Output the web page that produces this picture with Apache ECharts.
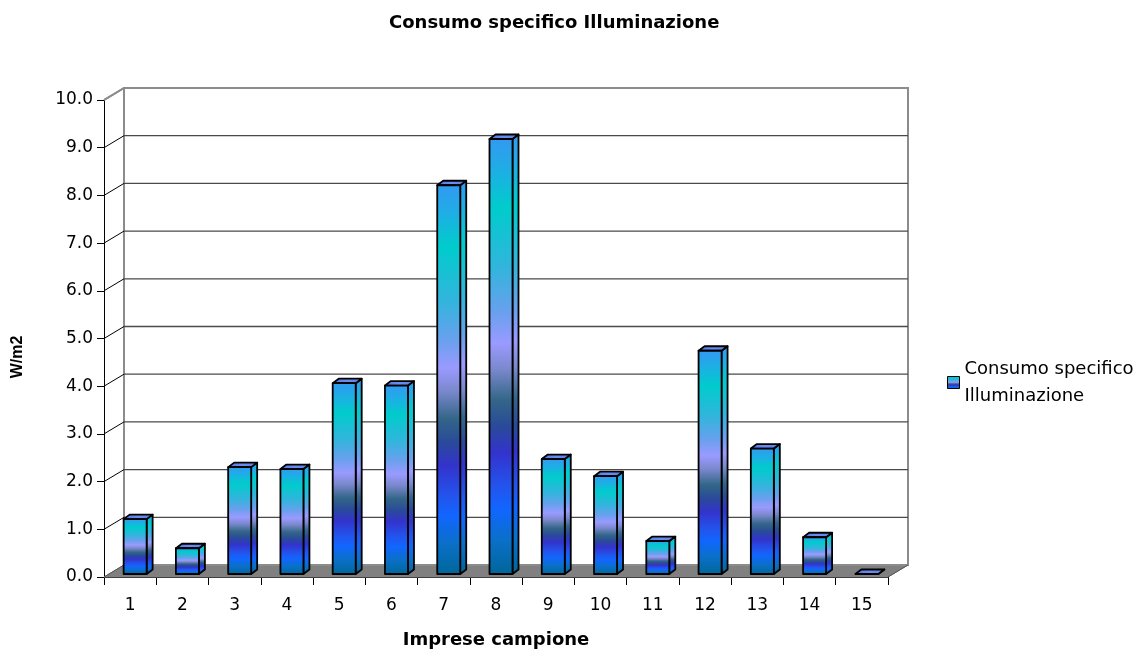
<!DOCTYPE html>
<html>
<head>
<meta charset="utf-8">
<script src="https://cdn.jsdelivr.net/npm/echarts@6/dist/echarts.min.js"></script>
<style>html,body{margin:0;padding:0;background:#fff}#c{width:1146px;height:654px}</style>
</head>
<body>
<div id="c"></div>
<script>
const categories = ['1','2','3','4','5','6','7','8','9','10','11','12','13','14','15'];
const values = [1.15, 0.54, 2.24, 2.2, 4.0, 3.95, 8.15, 9.12, 2.41, 2.05, 0.69, 4.68, 2.63, 0.77, 0.0];
const yTicks = [0,1,2,3,4,5,6,7,8,9,10];
const seriesName = 'Consumo specifico Illuminazione';

const FONT = 'DejaVu Sans';
const DEPTH = [20, -12];      // wall depth offset
const FRONT = [5, -3];        // bar front plane offset
const BDEP = [6, -4.5];       // bar depth

const stops = [
  {offset:0.00, color:'#3399f0'},
  {offset:0.06, color:'#22aae8'},
  {offset:0.16, color:'#00cccc'},
  {offset:0.30, color:'#33b4dd'},
  {offset:0.40, color:'#6aa0ee'},
  {offset:0.47, color:'#9a9aff'},
  {offset:0.53, color:'#7a88cc'},
  {offset:0.60, color:'#336688'},
  {offset:0.66, color:'#2a4a99'},
  {offset:0.72, color:'#3333cc'},
  {offset:0.80, color:'#2255ee'},
  {offset:0.85, color:'#1166ff'},
  {offset:0.92, color:'#0a70c8'},
  {offset:1.00, color:'#006699'}
];
const grad = () => ({type:'linear', x:0, y:0, x2:0, y2:1, colorStops: stops});
const topGrad = {type:'linear', x:0, y:0, x2:1, y2:0, colorStops:[{offset:0,color:'#4a78e6'},{offset:0.5,color:'#6d8cf0'},{offset:1,color:'#4f82e8'}]};

function plotEdges(api) {
  const cw = api.size([1, 0])[0];
  const x0 = api.coord([0, 0])[0] - cw / 2;
  const x1 = api.coord([categories.length - 1, 0])[0] + cw / 2;
  return {cw, x0, x1};
}

function renderFrame(params, api) {
  const e = plotEdges(api);
  const yb = api.coord([0, 0])[1];
  const yt = api.coord([0, 10])[1];
  const [dx, dy] = DEPTH;
  return {
    type: 'group',
    children: [
      {type:'polygon', shape:{points:[[e.x0,yb],[e.x0+dx,yb+dy],[e.x1+dx,yb+dy],[e.x1,yb]]},
        style:{fill:'#808080', stroke:'#808080', lineWidth:1}},
      {type:'rect', shape:{x:e.x0+dx, y:yt+dy, width:e.x1-e.x0, height:yb-yt},
        style:{fill:'none', stroke:'#8c8c8c', lineWidth:2}},
      {type:'line', shape:{x1:e.x0, y1:yt, x2:e.x0+dx, y2:yt+dy}, style:{stroke:'#8c8c8c', lineWidth:2}},
      {type:'line', shape:{x1:e.x1, y1:yb, x2:e.x1+dx, y2:yb+dy}, style:{stroke:'#555', lineWidth:1}}
    ]
  };
}

function renderGrid(params, api) {
  const v = api.value(1);
  if (v === 0 || v === 10) {
    const e0 = plotEdges(api);
    const p0 = api.coord([0, v]);
    return {type:'line', shape:{x1:e0.x0, y1:p0[1], x2:e0.x0+DEPTH[0], y2:p0[1]+DEPTH[1]},
      style:{stroke: v === 0 ? '#555' : '#8c8c8c', lineWidth: v === 0 ? 1 : 2}};
  }
  const e = plotEdges(api);
  const y = api.coord([0, v])[1];
  const [dx, dy] = DEPTH;
  return {
    type:'group',
    children:[
      {type:'line', shape:{x1:e.x0, y1:y, x2:e.x0+dx, y2:y+dy}, style:{stroke:'#000', lineWidth:1}},
      {type:'line', shape:{x1:e.x0+dx, y1:y+dy, x2:e.x1+dx, y2:y+dy}, style:{stroke:'#4a4a4a', lineWidth:1.3}}
    ]
  };
}

function renderBar(params, api) {
  const i = api.value(0), v = api.value(1);
  const base = api.coord([i, 0]);
  const top = api.coord([i, v]);
  const cw = api.size([1, 0])[0];
  const w = cw * 0.44;
  const xl = base[0] + FRONT[0] - w / 2, xr = xl + w;
  const yb = base[1] + FRONT[1], yt = top[1] + FRONT[1];
  const [dx, dy] = BDEP;
  const st = {stroke:'#000', lineWidth:1.8, lineJoin:'round'};
  const children = [
    {type:'polygon', shape:{points:[[xr,yt],[xr+dx,yt+dy],[xr+dx,yb+dy],[xr,yb]]},
      style:Object.assign({fill:grad()}, st)},
    {type:'polygon', shape:{points:[[xl,yt],[xl+dx,yt+dy],[xr+dx,yt+dy],[xr,yt]]},
      style:Object.assign({fill:topGrad}, st)}
  ];
  if (yb - yt > 0.5) {
    children.push({type:'rect', shape:{x:xl, y:yt, width:w, height:yb-yt},
      style:Object.assign({fill:grad()}, st)});
  }
  return {type:'group', children};
}

const chart = echarts.init(document.getElementById('c'), null, {renderer:'canvas'});
chart.setOption({
  animation:false,
  backgroundColor:'#fff',
  textStyle:{fontFamily:FONT},
  title:{
    text:seriesName, left:384, top:9,
    textStyle:{fontFamily:FONT, fontWeight:'bold', fontSize:18, color:'#000'}
  },
  legend:{
    orient:'vertical', left:942, top:337,
    itemWidth:12, itemHeight:12, itemGap:6,
    data:[{name:seriesName, icon:'rect', itemStyle:{color:grad(), borderColor:'#000', borderWidth:1}}],
    formatter:() => 'Consumo specifico\nIlluminazione',
    textStyle:{fontFamily:FONT, fontSize:18, color:'#000', lineHeight:27, padding:[27,0,0,0]}
  },
  grid:{left:104, right:258, top:100, bottom:74, containLabel:false},
  xAxis:{
    type:'category', data:categories, boundaryGap:true,
    name:'Imprese campione', nameLocation:'middle', nameGap:54,
    nameTextStyle:{fontFamily:FONT, fontWeight:'bold', fontSize:18, color:'#000'},
    axisLine:{lineStyle:{color:'#000', width:1}},
    axisTick:{show:true, length:8, lineStyle:{color:'#000'}},
    axisLabel:{color:'#000', fontSize:17, margin:20, fontFamily:FONT},
    splitLine:{show:false}
  },
  yAxis:{
    type:'value', min:0, max:10, interval:1,
    axisLine:{show:true, lineStyle:{color:'#000', width:1}},
    axisTick:{show:true, length:7, lineStyle:{color:'#000'}},
    axisLabel:{color:'#000', fontSize:17, margin:11, fontFamily:FONT, formatter:v => v.toFixed(1)},
    splitLine:{show:false}
  },
  graphic:[{
    type:'text', x:18, y:357, rotation:Math.PI/2,
    style:{text:'W/m2', fontFamily:'Liberation Sans', fontWeight:'bold', fontSize:16, fill:'#000',
      align:'center', verticalAlign:'middle'}
  }],
  series:[
    {type:'custom', name:'frame', renderItem:renderFrame, data:[[0,0]], z:1, silent:true},
    {type:'custom', name:'grid', renderItem:renderGrid, data:yTicks.map(v => [0, v]), z:2, silent:true},
    {type:'custom', name:seriesName, renderItem:renderBar,
      data:values.map((v, i) => [i, v]), z:3, itemStyle:{color:'#1a8fe0'},
      encode:{x:0, y:1}}
  ]
});
</script>
</body>
</html>
